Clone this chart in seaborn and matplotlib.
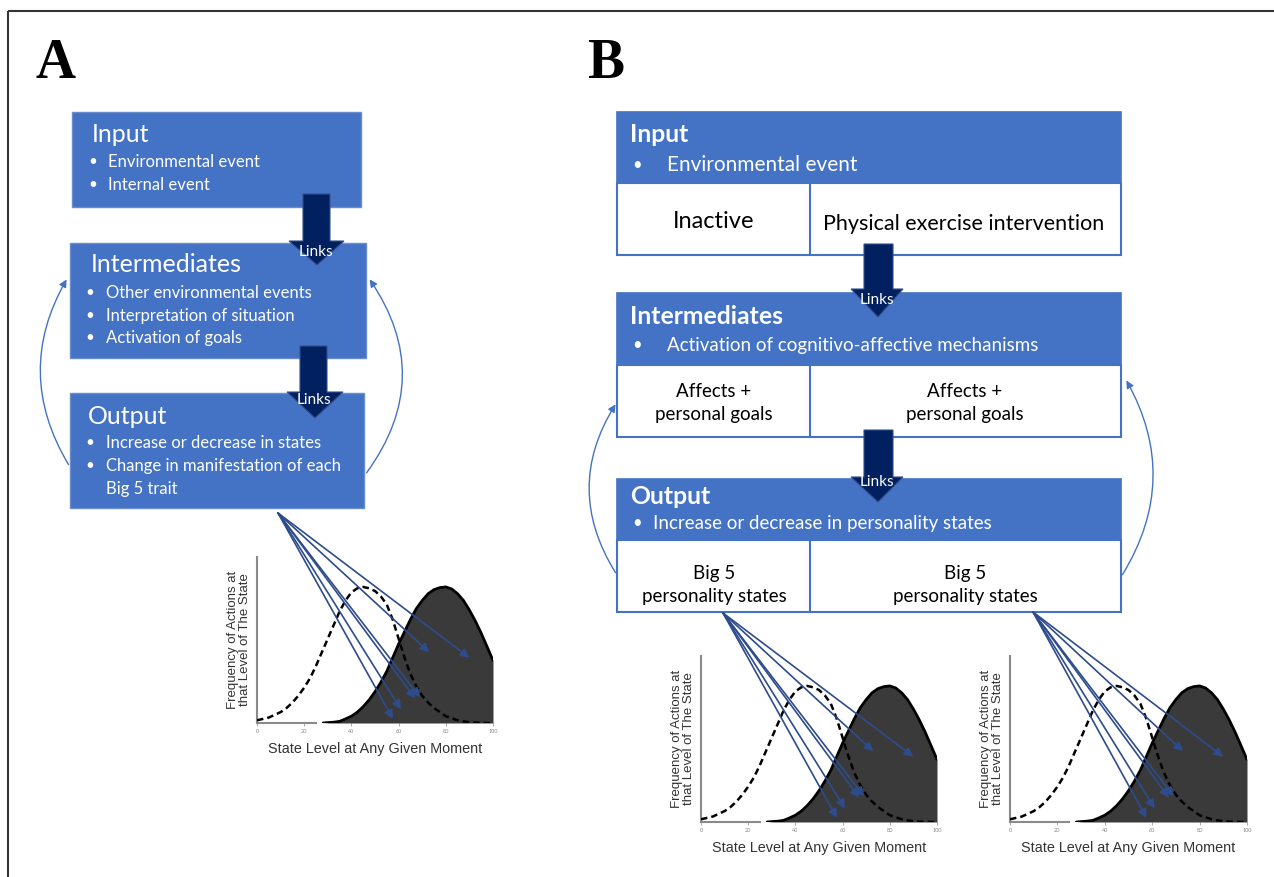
import matplotlib
matplotlib.use("Agg")
import matplotlib.pyplot as plt
import seaborn as sns
from matplotlib.patches import Rectangle, Polygon, FancyArrowPatch

# ---------------- data ----------------
state_x = [0, 2.5, 5, 7.5, 10, 12.5, 15, 17.5, 20, 22.5, 25, 27.5, 30, 32.5, 35, 37.5, 40,
           42.5, 45, 47.5, 50, 52.5, 55, 57.5, 60, 62.5, 65, 67.5, 70, 72.5, 75, 77.5, 80,
           82.5, 85, 87.5, 90, 92.5, 95, 97.5, 100]
freq_before = [0.02, 0.03, 0.04, 0.06, 0.08, 0.11, 0.15, 0.20, 0.26, 0.33, 0.42, 0.52, 0.62,
               0.72, 0.82, 0.90, 0.96, 0.99, 1.0, 0.99, 0.97, 0.93, 0.87, 0.76, 0.62, 0.48,
               0.36, 0.27, 0.20, 0.15, 0.11, 0.08, 0.05, 0.035, 0.02, 0.012, 0.006, 0.003,
               0.001, 0.0, 0.0]
state_x_after = [28, 30, 32.5, 35, 37.5, 40, 42.5, 45, 47.5, 50, 52.5, 55, 57.5, 60, 62.5, 65,
                 67.5, 70, 72.5, 75, 77.5, 80, 82.5, 85, 87.5, 90, 92.5, 95, 97.5, 100]
freq_after = [0.0, 0.003, 0.006, 0.012, 0.03, 0.05, 0.08, 0.12, 0.17, 0.23, 0.30, 0.38, 0.48,
              0.58, 0.67, 0.76, 0.84, 0.90, 0.95, 0.98, 0.995, 1.0, 0.985, 0.95, 0.90, 0.83,
              0.75, 0.66, 0.56, 0.46]
arrow_tip_x = [90, 73, 69, 67, 61, 57.6]
arrow_tip_y = [0.48, 0.52, 0.19, 0.18, 0.10, 0.03]
x_ticks = [0, 20, 40, 60, 80, 100]
x_label = "State Level at Any Given Moment"
y_label = "Frequency of Actions at\nthat Level of The State"

a_input = ["Environmental event", "Internal event"]
a_inter = ["Other environmental events", "Interpretation of situation", "Activation of goals"]
a_output = ["Increase or decrease in states", "Change in manifestation of each"]
a_output_cont = "Big 5 trait"
b_input = "Environmental event"
b_input_cells = ["Inactive", "Physical exercise intervention"]
b_inter = "Activation of cognitivo-affective mechanisms"
b_inter_cells = ["Affects +\npersonal goals", "Affects +\npersonal goals"]
b_output = "Increase or decrease in personality states"
b_output_cells = ["Big 5\npersonality states", "Big 5\npersonality states"]

# ---------------- style ----------------
sns.set_theme(style="white")
plt.rcParams['font.family'] = ['Lato', 'DejaVu Sans']

BLUE = '#4472C4'
EDGE = '#6A8DD0'
NAVY = '#002060'
ARW = '#2E4C8C'
W, H = 1274, 877

fig = plt.figure(figsize=(W / 100, H / 100), dpi=100)
main = fig.add_axes([0, 0, 1, 1])
main.set_xlim(0, W)
main.set_ylim(H, 0)
main.axis('off')

main.add_patch(Rectangle((8, 11), 1320, 900, fill=False, edgecolor='#333333', lw=1.5))
main.text(55, 64, "A", fontsize=40, fontweight='bold', family='Liberation Serif',
          ha='center', va='center', color='black')
main.text(606, 64, "B", fontsize=40, fontweight='bold', family='Liberation Serif',
          ha='center', va='center', color='black')


def box(x0, y0, x1, y1, fc=BLUE, ec=EDGE, lw=1.0, z=2):
    main.add_patch(Rectangle((x0, y0), x1 - x0, y1 - y0, facecolor=fc, edgecolor=ec, lw=lw, zorder=z))


def big_arrow(sx0, sx1, top, hb, hx0, hx1, tipx, tipy):
    pts = [(sx0, top), (sx1, top), (sx1, hb), (hx1, hb), (tipx, tipy), (hx0, hb), (sx0, hb)]
    main.add_patch(Polygon(pts, closed=True, facecolor=NAVY, edgecolor='#34508a', lw=0.8, zorder=5))


def links(x, y):
    main.text(x, y, "Links", color='white', fontsize=11, ha='center', va='center', zorder=6)


def curve(p0, p1, rad):
    main.add_patch(FancyArrowPatch(p0, p1, connectionstyle=f"arc3,rad={rad}", arrowstyle='-|>',
                                   mutation_scale=11, color=BLUE, lw=1.0, zorder=3))


# ---------------- panel A ----------------
box(72, 112, 361, 207)
box(70, 243, 366, 358)
box(70, 393, 364, 508)

TA, BA = 18, 12
main.text(92, 134, "Input", color='white', fontsize=TA, va='center', zorder=4)
for i, t in enumerate(a_input):
    main.text(88, 162 + 23 * i, "•", color='white', fontsize=11, va='center', zorder=4)
    main.text(108, 162 + 23 * i, t, color='white', fontsize=BA, va='center', zorder=4)

main.text(91, 265, "Intermediates", color='white', fontsize=TA, va='center', zorder=4)
for i, t in enumerate(a_inter):
    main.text(85, 293 + 22.5 * i, "•", color='white', fontsize=11, va='center', zorder=4)
    main.text(106, 293 + 22.5 * i, t, color='white', fontsize=BA, va='center', zorder=4)

main.text(88, 417, "Output", color='white', fontsize=TA, va='center', zorder=4)
for i, t in enumerate(a_output):
    main.text(85, 443 + 23 * i, "•", color='white', fontsize=11, va='center', zorder=4)
    main.text(106, 443 + 23 * i, t, color='white', fontsize=BA, va='center', zorder=4)
main.text(106, 489, a_output_cont, color='white', fontsize=BA, va='center', zorder=4)

big_arrow(303, 330, 194, 241, 289, 344, 317, 265)
big_arrow(300, 327, 346, 392, 287, 343, 315, 418)
links(316, 252)
links(314, 400)
curve((70, 467), (68, 277), -0.3)
curve((365, 475), (368, 277), 0.36)

# ---------------- panel B ----------------
BX0, BX1, BDIV = 617, 1121, 810
for top, mid, bot in [(112, 183, 255), (293, 365, 437), (479, 540, 612)]:
    box(BX0, mid, BX1, bot, fc='white', ec=BLUE, lw=1.5)
    main.plot([BDIV, BDIV], [mid, bot], color=BLUE, lw=1.5, zorder=3)
    box(BX0, top, BX1, mid, fc=BLUE, ec=BLUE, lw=1.2)

TB = 17.8
main.text(630, 135, "Input", color='white', fontsize=TB, fontweight='bold', va='center', zorder=4)
main.text(632, 165, "•", color='white', fontsize=12, va='center', zorder=4)
main.text(667, 165, b_input, color='white', fontsize=15, va='center', zorder=4)
main.text(714, 222, b_input_cells[0], color='black', fontsize=17, ha='center', va='center', zorder=4)
main.text(964, 224, b_input_cells[1], color='black', fontsize=15.5, ha='center', va='center', zorder=4)

main.text(630, 317, "Intermediates", color='white', fontsize=TB, fontweight='bold', va='center', zorder=4)
main.text(632, 345, "•", color='white', fontsize=12, va='center', zorder=4)
main.text(667, 345, b_inter, color='white', fontsize=13.5, va='center', zorder=4)
for xc, t in zip([714, 965], b_inter_cells):
    main.text(xc, 403, t, color='black', fontsize=13.5, ha='center', va='center',
              linespacing=1.4, zorder=4)

main.text(630, 497, "Output", color='white', fontsize=TB, fontweight='bold', va='center', zorder=4)
main.text(632, 523, "•", color='white', fontsize=12, va='center', zorder=4)
main.text(653, 523, b_output, color='white', fontsize=13.5, va='center', zorder=4)
for xc, t in zip([714, 965], b_output_cells):
    main.text(xc, 585, t, color='black', fontsize=13.5, ha='center', va='center',
              linespacing=1.4, zorder=4)

big_arrow(864, 893, 244, 289, 851, 903, 878, 317)
big_arrow(864, 893, 430, 477, 851, 903, 878, 502)
links(877, 300)
links(877, 482)
curve((617, 575), (617, 402), -0.32)
curve((1121, 577), (1125, 378), 0.3)


# ---------------- small distribution plots ----------------
def state_plot(x0, base, x100, origin):
    ax = fig.add_axes([x0 / W, 1 - base / H, (x100 - x0) / W, 166 / H])
    ax.patch.set_alpha(0)
    ax.fill_between(state_x_after, freq_after, color='#3a3a3a', lw=0, zorder=2)
    sns.lineplot(x=state_x_after, y=freq_after, ax=ax, color='black', lw=2, zorder=3)
    sns.lineplot(x=state_x, y=freq_before, ax=ax, color='black', lw=1.8,
                 linestyle=(0, (2.6, 1.6)), zorder=4)
    ax.set_xlim(0, 100)
    ax.set_ylim(0, 1.22)
    for s in ['top', 'right']:
        ax.spines[s].set_visible(False)
    ax.spines['left'].set_color('#8a8a8a')
    ax.spines['left'].set_linewidth(1.5)
    ax.spines['bottom'].set_color('#8a8a8a')
    ax.spines['bottom'].set_linewidth(1.5)
    ax.spines['bottom'].set_bounds(0, 25)
    ax.set_yticks([])
    ax.set_xticks(x_ticks)
    ax.set_xticklabels([str(v) for v in x_ticks], fontsize=4, color='#888888')
    ax.tick_params(axis='x', length=2, width=0.6, color='#999999', pad=2, bottom=True)
    ax.set_xlabel(x_label, fontsize=10.4, family='Liberation Sans', color='#333333', labelpad=6)
    ax.set_ylabel(y_label, fontsize=9.5, family='Liberation Sans', color='#333333',
                  labelpad=4, linespacing=1.0)
    for tx, ty in zip(arrow_tip_x, arrow_tip_y):
        ax.annotate('', xy=(tx, ty), xycoords='data', xytext=origin, textcoords=main.transData,
                    annotation_clip=False,
                    arrowprops=dict(arrowstyle='-|>', color=ARW, lw=1.2, mutation_scale=13,
                                    shrinkA=0, shrinkB=0), zorder=6)
    return ax


state_plot(257, 723, 493, (278, 513))
state_plot(701, 822, 937, (723, 613))
state_plot(1010, 822, 1247, (1033, 612))

fig.savefig("out.png", dpi=100)
